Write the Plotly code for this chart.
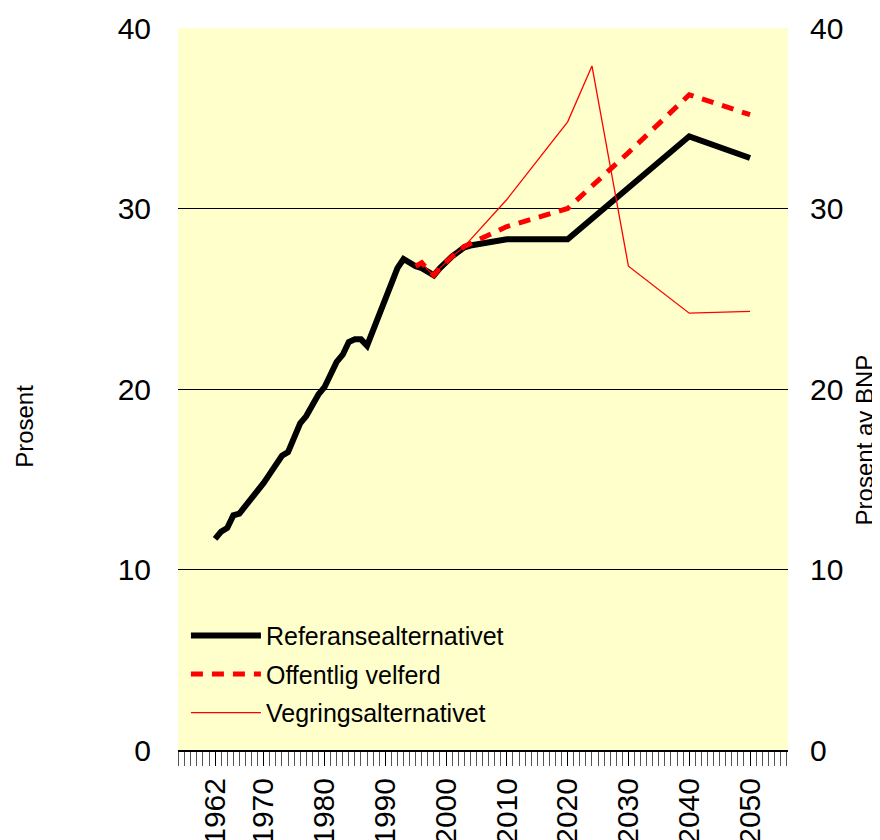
import plotly.graph_objects as go

# Referansealternativet (historikk + framskriving)
ref_years = list(range(1962, 2006)) + [2010, 2020, 2030, 2040, 2050]
ref_values = [
    11.7, 12.1, 12.3, 13.0, 13.1, 13.5, 14.0, 14.4, 14.8, 15.3,
    15.8, 16.3, 16.5, 17.3, 18.1, 18.5, 19.1, 19.7, 20.1, 20.8,
    21.5, 21.9, 22.6, 22.75, 22.75, 22.4, 23.3, 24.1, 25.0, 25.9,
    26.7, 27.2, 27.0, 26.8, 26.7, 26.5, 26.3, 26.7, 27.05, 27.35,
    27.6, 27.85, 27.95, 28.0,
    28.3, 28.3, 31.1, 34.0, 32.8,
]

# Offentlig velferd
velferd_years = list(range(1995, 2004)) + [2010, 2020, 2030, 2040, 2050]
velferd_values = [26.8, 27.0, 26.6, 26.3, 26.7, 27.05, 27.35, 27.6, 27.9,
                  29.0, 30.0, 33.1, 36.3, 35.2]

# Vegringsalternativet
vegring_years = list(range(1995, 2004)) + [2010, 2020, 2024, 2030, 2040, 2050]
vegring_values = [26.8, 27.0, 26.6, 26.3, 26.7, 27.05, 27.35, 27.6, 27.9,
                  30.5, 34.8, 37.9, 26.8, 24.2, 24.3]

label_years = [1962, 1970, 1980, 1990, 2000, 2010, 2020, 2030, 2040, 2050]
y_ticks = [0, 10, 20, 30, 40]

FONT = "Liberation Sans, Arial, sans-serif"

fig = go.Figure()
fig.add_trace(go.Scatter(
    x=ref_years, y=ref_values, mode="lines", name="Referansealternativet",
    legendgroup="a", line=dict(color="black", width=6),
))
fig.add_trace(go.Scatter(
    x=velferd_years, y=velferd_values, mode="lines", name="Offentlig velferd",
    legendgroup="b", line=dict(color="#ff0000", width=5, dash="12px,9px"),
))
fig.add_trace(go.Scatter(
    x=vegring_years, y=vegring_values, mode="lines", name="Vegringsalternativet",
    legendgroup="c", line=dict(color="#ff0000", width=1.3),
))
# invisible trace to carry the right-hand axis
fig.add_trace(go.Scatter(
    x=[label_years[0]], y=[0], yaxis="y2", mode="lines",
    showlegend=False, hoverinfo="skip", line=dict(width=0),
))

# page body has an 8px margin, so the figure is 8px smaller each way
fig.update_layout(
    width=872, height=832,
    margin=dict(l=170, r=92, t=20, b=90),
    paper_bgcolor="white",
    plot_bgcolor="#ffffcc",
    font=dict(family=FONT, size=30, color="black"),
    showlegend=True,
    legend=dict(
        x=0.013, y=0.19, xanchor="left", yanchor="top",
        bgcolor="rgba(0,0,0,0)", font=dict(size=25),
        itemwidth=70, tracegroupgap=3, traceorder="grouped",
    ),
    xaxis=dict(
        range=[1955.9, 2056.25],
        tickmode="array", tickvals=label_years,
        ticks="outside", ticklen=14, tickcolor="black", tickwidth=1,
        tickangle=-90, tickfont=dict(size=30),
        minor=dict(tickmode="linear", tick0=1962, dtick=1,
                   ticks="outside", ticklen=14, tickcolor="#555555", tickwidth=1),
        showgrid=False, zeroline=False,
        showline=True, linecolor="black", linewidth=2,
        automargin=False,
    ),
    yaxis=dict(
        range=[0, 40], tickvals=y_ticks,
        showgrid=True, gridcolor="black", gridwidth=1,
        zeroline=False, showline=False,
        ticks="outside", ticklen=20, tickcolor="rgba(0,0,0,0)",
        tickfont=dict(size=30), automargin=False,
    ),
    yaxis2=dict(
        range=[0, 40], tickvals=y_ticks, overlaying="y", side="right",
        showgrid=False, zeroline=False, showline=False,
        ticks="outside", ticklen=15, tickcolor="rgba(0,0,0,0)",
        tickfont=dict(size=30), automargin=False,
    ),
    annotations=[
        dict(text="Prosent", xref="paper", yref="paper",
             x=-0.252, y=0.448, textangle=-90, showarrow=False,
             font=dict(size=24), xanchor="center", yanchor="middle"),
        dict(text="Prosent av BNP", xref="paper", yref="paper",
             x=1.126, y=0.43, textangle=-90, showarrow=False,
             font=dict(size=24), xanchor="center", yanchor="middle"),
    ],
)

fig.write_html("out.html")
